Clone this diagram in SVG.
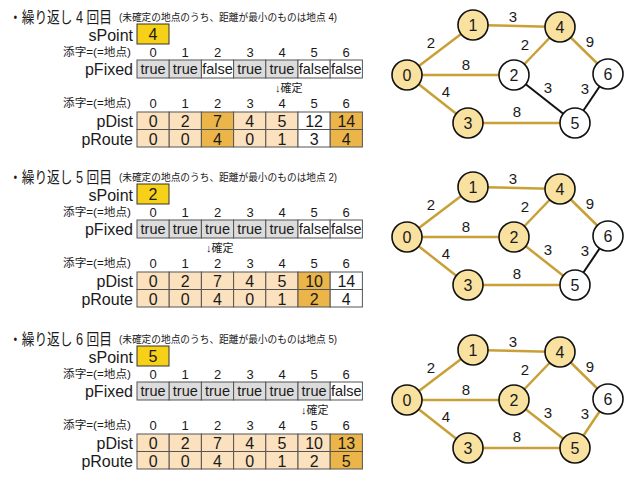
<svg xmlns="http://www.w3.org/2000/svg" width="637" height="485" viewBox="0 0 637 485">
<defs>
<style>
text{font-family:"Liberation Sans","Noto Sans CJK JP",sans-serif;fill:#1a1a1a}
.title{font-size:16px}
.sub{font-size:10px}
.lbl{font-size:16px;text-anchor:end}
.idxl{font-size:11px;text-anchor:end}
.idx{font-size:13px;text-anchor:middle}
.cf{font-size:14.5px;text-anchor:middle}
.cd{font-size:16px;text-anchor:middle}
.fix{font-size:11px}
.sp{fill:#F7D117;stroke:#333;stroke-width:1}
.t{fill:#DCDCDC;stroke:#555;stroke-width:1}
.f{fill:#fff;stroke:#555;stroke-width:1}
.l{fill:#FBE1BE;stroke:#555;stroke-width:1}
.d{fill:#EBB54A;stroke:#555;stroke-width:1}
.w{fill:#fff;stroke:#555;stroke-width:1}
.eg{stroke:#C9A035;stroke-width:2.5;fill:none}
.eb{stroke:#111;stroke-width:2;fill:none}
.nf{fill:#F9E1A0;stroke:#111;stroke-width:1.6}
.nw{fill:#fff;stroke:#111;stroke-width:1.6}
.nt{font-size:16px;text-anchor:middle}
.el{font-size:15px;text-anchor:middle}
</style>
</defs>
<rect width="637" height="485" fill="#fff"/>

<!-- Section 1 -->
<g id="sec1">
<text class="title" x="9" y="23" textLength="103" lengthAdjust="spacingAndGlyphs">・繰り返し 4 回目</text>
<text class="sub" x="119" y="21" textLength="218" lengthAdjust="spacingAndGlyphs">(未確定の地点のうち、距離が最小のものは地点 4)</text>
<g id="s1-spoint"><text class="lbl" x="133" y="41">sPoint</text><rect class="sp" x="137" y="24" width="32" height="20"/><text class="cd" x="153" y="40">4</text></g>
<g id="s1-idx1"><text class="idxl" x="131" y="56" textLength="68" lengthAdjust="spacingAndGlyphs">添字=(=地点)</text>
<text class="idx" x="153" y="57">0</text><text class="idx" x="185" y="57">1</text><text class="idx" x="217.5" y="57">2</text><text class="idx" x="250" y="57">3</text><text class="idx" x="282" y="57">4</text><text class="idx" x="314" y="57">5</text><text class="idx" x="346" y="57">6</text></g>
<g id="s1-pfixed"><text class="lbl" x="133" y="75">pFixed</text>
<rect class="t" x="137" y="60" width="32.2" height="18"/><rect class="t" x="169.2" y="60" width="32.2" height="18"/><rect class="f" x="201.4" y="60" width="32.2" height="18"/><rect class="t" x="233.6" y="60" width="32.2" height="18"/><rect class="t" x="265.8" y="60" width="32.2" height="18"/><rect class="f" x="298" y="60" width="32.2" height="18"/><rect class="f" x="330.2" y="60" width="32.2" height="18"/>
<text class="cf" x="153.1" y="74">true</text><text class="cf" x="185.3" y="74">true</text><text class="cf" x="217.5" y="74">false</text><text class="cf" x="249.7" y="74">true</text><text class="cf" x="281.9" y="74">true</text><text class="cf" x="314.1" y="74">false</text><text class="cf" x="346.3" y="74">false</text></g>
<text class="fix" x="275" y="92">↓確定</text>
<g id="s1-idx2"><text class="idxl" x="131" y="107" textLength="68" lengthAdjust="spacingAndGlyphs">添字=(=地点)</text>
<text class="idx" x="153" y="108">0</text><text class="idx" x="185" y="108">1</text><text class="idx" x="217.5" y="108">2</text><text class="idx" x="250" y="108">3</text><text class="idx" x="282" y="108">4</text><text class="idx" x="314" y="108">5</text><text class="idx" x="346" y="108">6</text></g>
<g id="s1-pdist"><text class="lbl" x="133" y="127">pDist</text>
<rect class="l" x="137" y="112" width="32.2" height="17.5"/><rect class="l" x="169.2" y="112" width="32.2" height="17.5"/><rect class="d" x="201.4" y="112" width="32.2" height="17.5"/><rect class="l" x="233.6" y="112" width="32.2" height="17.5"/><rect class="l" x="265.8" y="112" width="32.2" height="17.5"/><rect class="w" x="298" y="112" width="32.2" height="17.5"/><rect class="d" x="330.2" y="112" width="32.2" height="17.5"/>
<text class="cd" x="153.1" y="127">0</text><text class="cd" x="185.3" y="127">2</text><text class="cd" x="217.5" y="127">7</text><text class="cd" x="249.7" y="127">4</text><text class="cd" x="281.9" y="127">5</text><text class="cd" x="314.1" y="127">12</text><text class="cd" x="346.3" y="127">14</text></g>
<g id="s1-proute"><text class="lbl" x="133" y="144.5">pRoute</text>
<rect class="l" x="137" y="129.5" width="32.2" height="17.5"/><rect class="l" x="169.2" y="129.5" width="32.2" height="17.5"/><rect class="d" x="201.4" y="129.5" width="32.2" height="17.5"/><rect class="l" x="233.6" y="129.5" width="32.2" height="17.5"/><rect class="l" x="265.8" y="129.5" width="32.2" height="17.5"/><rect class="w" x="298" y="129.5" width="32.2" height="17.5"/><rect class="d" x="330.2" y="129.5" width="32.2" height="17.5"/>
<text class="cd" x="153.1" y="144.5">0</text><text class="cd" x="185.3" y="144.5">0</text><text class="cd" x="217.5" y="144.5">4</text><text class="cd" x="249.7" y="144.5">0</text><text class="cd" x="281.9" y="144.5">1</text><text class="cd" x="314.1" y="144.5">3</text><text class="cd" x="346.3" y="144.5">4</text></g>
<g id="g1-edges">
<line class="eg" x1="407" y1="75" x2="473" y2="25"/><line class="eg" x1="473" y1="25" x2="560" y2="27"/><line class="eg" x1="407" y1="75" x2="514" y2="75"/><line class="eg" x1="514" y1="75" x2="560" y2="27"/><line class="eg" x1="560" y1="27" x2="608" y2="74"/><line class="eg" x1="407" y1="75" x2="468" y2="123"/><line class="eg" x1="468" y1="123" x2="575" y2="123"/><line class="eb" x1="514" y1="75" x2="575" y2="123"/><line class="eb" x1="575" y1="123" x2="608" y2="74"/>
<text class="el" x="431" y="48">2</text><text class="el" x="513" y="22">3</text><text class="el" x="466" y="70">8</text><text class="el" x="525" y="50">2</text><text class="el" x="590" y="47">9</text><text class="el" x="446" y="97">4</text><text class="el" x="548" y="93">3</text><text class="el" x="585" y="94">3</text><text class="el" x="517" y="117">8</text>
</g>
<g id="g1-n0"><circle class="nf" cx="407" cy="75" r="15"/><text class="nt" x="407" y="81">0</text></g>
<g id="g1-n1"><circle class="nf" cx="473" cy="25" r="15"/><text class="nt" x="473" y="31">1</text></g>
<g id="g1-n2"><circle class="nw" cx="514" cy="75" r="15"/><text class="nt" x="514" y="81">2</text></g>
<g id="g1-n3"><circle class="nf" cx="468" cy="123" r="15"/><text class="nt" x="468" y="129">3</text></g>
<g id="g1-n4"><circle class="nf" cx="560" cy="27" r="15"/><text class="nt" x="560" y="33">4</text></g>
<g id="g1-n5"><circle class="nw" cx="575" cy="123" r="15"/><text class="nt" x="575" y="129">5</text></g>
<g id="g1-n6"><circle class="nw" cx="608" cy="74" r="15"/><text class="nt" x="608" y="80">6</text></g>
</g>

<!-- Section 2 -->
<g id="sec2" transform="translate(0,160)">
<text class="title" x="9" y="23" textLength="103" lengthAdjust="spacingAndGlyphs">・繰り返し 5 回目</text>
<text class="sub" x="119" y="21" textLength="218" lengthAdjust="spacingAndGlyphs">(未確定の地点のうち、距離が最小のものは地点 2)</text>
<g id="s2-spoint"><text class="lbl" x="133" y="41">sPoint</text><rect class="sp" x="137" y="24" width="32" height="20"/><text class="cd" x="153" y="40">2</text></g>
<g id="s2-idx1"><text class="idxl" x="131" y="56" textLength="68" lengthAdjust="spacingAndGlyphs">添字=(=地点)</text>
<text class="idx" x="153" y="57">0</text><text class="idx" x="185" y="57">1</text><text class="idx" x="217.5" y="57">2</text><text class="idx" x="250" y="57">3</text><text class="idx" x="282" y="57">4</text><text class="idx" x="314" y="57">5</text><text class="idx" x="346" y="57">6</text></g>
<g id="s2-pfixed"><text class="lbl" x="133" y="75">pFixed</text>
<rect class="t" x="137" y="60" width="32.2" height="18"/><rect class="t" x="169.2" y="60" width="32.2" height="18"/><rect class="t" x="201.4" y="60" width="32.2" height="18"/><rect class="t" x="233.6" y="60" width="32.2" height="18"/><rect class="t" x="265.8" y="60" width="32.2" height="18"/><rect class="f" x="298" y="60" width="32.2" height="18"/><rect class="f" x="330.2" y="60" width="32.2" height="18"/>
<text class="cf" x="153.1" y="74">true</text><text class="cf" x="185.3" y="74">true</text><text class="cf" x="217.5" y="74">true</text><text class="cf" x="249.7" y="74">true</text><text class="cf" x="281.9" y="74">true</text><text class="cf" x="314.1" y="74">false</text><text class="cf" x="346.3" y="74">false</text></g>
<text class="fix" x="206" y="92">↓確定</text>
<g id="s2-idx2"><text class="idxl" x="131" y="107" textLength="68" lengthAdjust="spacingAndGlyphs">添字=(=地点)</text>
<text class="idx" x="153" y="108">0</text><text class="idx" x="185" y="108">1</text><text class="idx" x="217.5" y="108">2</text><text class="idx" x="250" y="108">3</text><text class="idx" x="282" y="108">4</text><text class="idx" x="314" y="108">5</text><text class="idx" x="346" y="108">6</text></g>
<g id="s2-pdist"><text class="lbl" x="133" y="127">pDist</text>
<rect class="l" x="137" y="112" width="32.2" height="17.5"/><rect class="l" x="169.2" y="112" width="32.2" height="17.5"/><rect class="l" x="201.4" y="112" width="32.2" height="17.5"/><rect class="l" x="233.6" y="112" width="32.2" height="17.5"/><rect class="l" x="265.8" y="112" width="32.2" height="17.5"/><rect class="d" x="298" y="112" width="32.2" height="17.5"/><rect class="w" x="330.2" y="112" width="32.2" height="17.5"/>
<text class="cd" x="153.1" y="127">0</text><text class="cd" x="185.3" y="127">2</text><text class="cd" x="217.5" y="127">7</text><text class="cd" x="249.7" y="127">4</text><text class="cd" x="281.9" y="127">5</text><text class="cd" x="314.1" y="127">10</text><text class="cd" x="346.3" y="127">14</text></g>
<g id="s2-proute"><text class="lbl" x="133" y="144.5">pRoute</text>
<rect class="l" x="137" y="129.5" width="32.2" height="17.5"/><rect class="l" x="169.2" y="129.5" width="32.2" height="17.5"/><rect class="l" x="201.4" y="129.5" width="32.2" height="17.5"/><rect class="l" x="233.6" y="129.5" width="32.2" height="17.5"/><rect class="l" x="265.8" y="129.5" width="32.2" height="17.5"/><rect class="d" x="298" y="129.5" width="32.2" height="17.5"/><rect class="w" x="330.2" y="129.5" width="32.2" height="17.5"/>
<text class="cd" x="153.1" y="144.5">0</text><text class="cd" x="185.3" y="144.5">0</text><text class="cd" x="217.5" y="144.5">4</text><text class="cd" x="249.7" y="144.5">0</text><text class="cd" x="281.9" y="144.5">1</text><text class="cd" x="314.1" y="144.5">2</text><text class="cd" x="346.3" y="144.5">4</text></g>
<g id="g2-edges" transform="translate(0,2)">
<line class="eg" x1="407" y1="75" x2="473" y2="25"/><line class="eg" x1="473" y1="25" x2="560" y2="27"/><line class="eg" x1="407" y1="75" x2="514" y2="75"/><line class="eg" x1="514" y1="75" x2="560" y2="27"/><line class="eg" x1="560" y1="27" x2="608" y2="74"/><line class="eg" x1="407" y1="75" x2="468" y2="123"/><line class="eg" x1="468" y1="123" x2="575" y2="123"/><line class="eg" x1="514" y1="75" x2="575" y2="123"/><line class="eb" x1="575" y1="123" x2="608" y2="74"/>
<text class="el" x="431" y="48">2</text><text class="el" x="513" y="22">3</text><text class="el" x="466" y="70">8</text><text class="el" x="525" y="50">2</text><text class="el" x="590" y="47">9</text><text class="el" x="446" y="97">4</text><text class="el" x="548" y="93">3</text><text class="el" x="585" y="94">3</text><text class="el" x="517" y="117">8</text>
</g>
<g transform="translate(0,2)">
<g id="g2-n0"><circle class="nf" cx="407" cy="75" r="15"/><text class="nt" x="407" y="81">0</text></g>
<g id="g2-n1"><circle class="nf" cx="473" cy="25" r="15"/><text class="nt" x="473" y="31">1</text></g>
<g id="g2-n2"><circle class="nf" cx="514" cy="75" r="15"/><text class="nt" x="514" y="81">2</text></g>
<g id="g2-n3"><circle class="nf" cx="468" cy="123" r="15"/><text class="nt" x="468" y="129">3</text></g>
<g id="g2-n4"><circle class="nf" cx="560" cy="27" r="15"/><text class="nt" x="560" y="33">4</text></g>
<g id="g2-n5"><circle class="nw" cx="575" cy="123" r="15"/><text class="nt" x="575" y="129">5</text></g>
<g id="g2-n6"><circle class="nw" cx="608" cy="74" r="15"/><text class="nt" x="608" y="80">6</text></g>
</g>
</g>

<!-- Section 3 -->
<g id="sec3" transform="translate(0,322)">
<text class="title" x="9" y="23" textLength="103" lengthAdjust="spacingAndGlyphs">・繰り返し 6 回目</text>
<text class="sub" x="119" y="21" textLength="218" lengthAdjust="spacingAndGlyphs">(未確定の地点のうち、距離が最小のものは地点 5)</text>
<g id="s3-spoint"><text class="lbl" x="133" y="41">sPoint</text><rect class="sp" x="137" y="24" width="32" height="20"/><text class="cd" x="153" y="40">5</text></g>
<g id="s3-idx1"><text class="idxl" x="131" y="56" textLength="68" lengthAdjust="spacingAndGlyphs">添字=(=地点)</text>
<text class="idx" x="153" y="57">0</text><text class="idx" x="185" y="57">1</text><text class="idx" x="217.5" y="57">2</text><text class="idx" x="250" y="57">3</text><text class="idx" x="282" y="57">4</text><text class="idx" x="314" y="57">5</text><text class="idx" x="346" y="57">6</text></g>
<g id="s3-pfixed"><text class="lbl" x="133" y="75">pFixed</text>
<rect class="t" x="137" y="60" width="32.2" height="18"/><rect class="t" x="169.2" y="60" width="32.2" height="18"/><rect class="t" x="201.4" y="60" width="32.2" height="18"/><rect class="t" x="233.6" y="60" width="32.2" height="18"/><rect class="t" x="265.8" y="60" width="32.2" height="18"/><rect class="t" x="298" y="60" width="32.2" height="18"/><rect class="f" x="330.2" y="60" width="32.2" height="18"/>
<text class="cf" x="153.1" y="74">true</text><text class="cf" x="185.3" y="74">true</text><text class="cf" x="217.5" y="74">true</text><text class="cf" x="249.7" y="74">true</text><text class="cf" x="281.9" y="74">true</text><text class="cf" x="314.1" y="74">true</text><text class="cf" x="346.3" y="74">false</text></g>
<text class="fix" x="301" y="92">↓確定</text>
<g id="s3-idx2"><text class="idxl" x="131" y="107" textLength="68" lengthAdjust="spacingAndGlyphs">添字=(=地点)</text>
<text class="idx" x="153" y="108">0</text><text class="idx" x="185" y="108">1</text><text class="idx" x="217.5" y="108">2</text><text class="idx" x="250" y="108">3</text><text class="idx" x="282" y="108">4</text><text class="idx" x="314" y="108">5</text><text class="idx" x="346" y="108">6</text></g>
<g id="s3-pdist"><text class="lbl" x="133" y="127">pDist</text>
<rect class="l" x="137" y="112" width="32.2" height="17.5"/><rect class="l" x="169.2" y="112" width="32.2" height="17.5"/><rect class="l" x="201.4" y="112" width="32.2" height="17.5"/><rect class="l" x="233.6" y="112" width="32.2" height="17.5"/><rect class="l" x="265.8" y="112" width="32.2" height="17.5"/><rect class="l" x="298" y="112" width="32.2" height="17.5"/><rect class="d" x="330.2" y="112" width="32.2" height="17.5"/>
<text class="cd" x="153.1" y="127">0</text><text class="cd" x="185.3" y="127">2</text><text class="cd" x="217.5" y="127">7</text><text class="cd" x="249.7" y="127">4</text><text class="cd" x="281.9" y="127">5</text><text class="cd" x="314.1" y="127">10</text><text class="cd" x="346.3" y="127">13</text></g>
<g id="s3-proute"><text class="lbl" x="133" y="144.5">pRoute</text>
<rect class="l" x="137" y="129.5" width="32.2" height="17.5"/><rect class="l" x="169.2" y="129.5" width="32.2" height="17.5"/><rect class="l" x="201.4" y="129.5" width="32.2" height="17.5"/><rect class="l" x="233.6" y="129.5" width="32.2" height="17.5"/><rect class="l" x="265.8" y="129.5" width="32.2" height="17.5"/><rect class="l" x="298" y="129.5" width="32.2" height="17.5"/><rect class="d" x="330.2" y="129.5" width="32.2" height="17.5"/>
<text class="cd" x="153.1" y="144.5">0</text><text class="cd" x="185.3" y="144.5">0</text><text class="cd" x="217.5" y="144.5">4</text><text class="cd" x="249.7" y="144.5">0</text><text class="cd" x="281.9" y="144.5">1</text><text class="cd" x="314.1" y="144.5">2</text><text class="cd" x="346.3" y="144.5">5</text></g>
<g id="g3-edges" transform="translate(0,3)">
<line class="eg" x1="407" y1="75" x2="473" y2="25"/><line class="eg" x1="473" y1="25" x2="560" y2="27"/><line class="eg" x1="407" y1="75" x2="514" y2="75"/><line class="eg" x1="514" y1="75" x2="560" y2="27"/><line class="eg" x1="560" y1="27" x2="608" y2="74"/><line class="eg" x1="407" y1="75" x2="468" y2="123"/><line class="eg" x1="468" y1="123" x2="575" y2="123"/><line class="eg" x1="514" y1="75" x2="575" y2="123"/><line class="eg" x1="575" y1="123" x2="608" y2="74"/>
<text class="el" x="431" y="48">2</text><text class="el" x="513" y="22">3</text><text class="el" x="466" y="70">8</text><text class="el" x="525" y="50">2</text><text class="el" x="590" y="47">9</text><text class="el" x="446" y="97">4</text><text class="el" x="548" y="93">3</text><text class="el" x="585" y="94">3</text><text class="el" x="517" y="117">8</text>
</g>
<g transform="translate(0,3)">
<g id="g3-n0"><circle class="nf" cx="407" cy="75" r="15"/><text class="nt" x="407" y="81">0</text></g>
<g id="g3-n1"><circle class="nf" cx="473" cy="25" r="15"/><text class="nt" x="473" y="31">1</text></g>
<g id="g3-n2"><circle class="nf" cx="514" cy="75" r="15"/><text class="nt" x="514" y="81">2</text></g>
<g id="g3-n3"><circle class="nf" cx="468" cy="123" r="15"/><text class="nt" x="468" y="129">3</text></g>
<g id="g3-n4"><circle class="nf" cx="560" cy="27" r="15"/><text class="nt" x="560" y="33">4</text></g>
<g id="g3-n5"><circle class="nf" cx="575" cy="123" r="15"/><text class="nt" x="575" y="129">5</text></g>
<g id="g3-n6"><circle class="nw" cx="608" cy="74" r="15"/><text class="nt" x="608" y="80">6</text></g>
</g>
</g>
</svg>
